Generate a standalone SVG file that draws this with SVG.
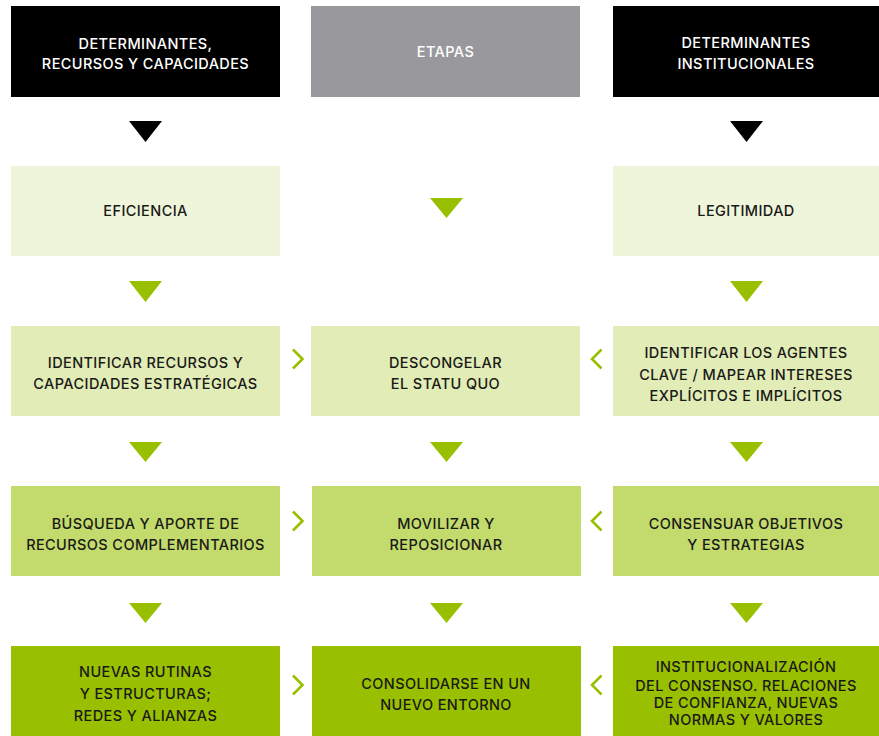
<svg xmlns="http://www.w3.org/2000/svg" width="879" height="736" viewBox="0 0 879 736">
<style>
text{font-family:Inter,"Noto Sans","Liberation Sans",sans-serif;font-size:14.5px;font-weight:500;text-anchor:middle;fill:#1a1a18;letter-spacing:0.4px}
.w{fill:#ffffff}
.hd{fill:#000000}
.et{fill:#99989d}
.r2{fill:#eef5da}
.r3{fill:#e1ecb6}
.r4{fill:#c3da6c}
.r5{fill:#99c000}
.tg{fill:#99c000}
.tb{fill:#000000}
.ch{fill:none;stroke:#99c000;stroke-width:2.6}
</style>
<g id="col-a-header"><rect class="hd" x="11" y="6" width="269" height="91"/><text class="w" x="145.5" y="48.5">DETERMINANTES,</text><text class="w" x="145.5" y="68.5">RECURSOS Y CAPACIDADES</text></g>
<g id="col-b-header"><rect class="et" x="311" y="6" width="269" height="91"/><text class="w" x="445.5" y="57">ETAPAS</text></g>
<g id="col-c-header"><rect class="hd" x="613" y="6" width="266" height="91"/><text class="w" x="746" y="48">DETERMINANTES</text><text class="w" x="746" y="68.5">INSTITUCIONALES</text></g>
<g id="eficiencia"><rect class="r2" x="11" y="166" width="269" height="90"/><text x="145.5" y="216">EFICIENCIA</text></g>
<g id="legitimidad"><rect class="r2" x="613" y="166" width="266" height="90"/><text x="746" y="216">LEGITIMIDAD</text></g>
<g id="identificar-recursos"><rect class="r3" x="11" y="326" width="269" height="90"/><text x="145.5" y="367.5">IDENTIFICAR RECURSOS Y</text><text x="145.5" y="388.5">CAPACIDADES ESTRATÉGICAS</text></g>
<g id="descongelar"><rect class="r3" x="311" y="326" width="269" height="90"/><text x="445.5" y="368">DESCONGELAR</text><text x="445.5" y="389">EL STATU QUO</text></g>
<g id="identificar-agentes"><rect class="r3" x="613" y="326" width="266" height="90"/><text x="746" y="358">IDENTIFICAR LOS AGENTES</text><text x="746" y="379.5">CLAVE / MAPEAR INTERESES</text><text x="746" y="400.5">EXPLÍCITOS E IMPLÍCITOS</text></g>
<g id="busqueda"><rect class="r4" x="11" y="486" width="269" height="90"/><text x="145.5" y="529">BÚSQUEDA Y APORTE DE</text><text x="145.5" y="550">RECURSOS COMPLEMENTARIOS</text></g>
<g id="movilizar"><rect class="r4" x="312" y="486" width="269" height="90"/><text x="446" y="528.5">MOVILIZAR Y</text><text x="446" y="549.5">REPOSICIONAR</text></g>
<g id="consensuar"><rect class="r4" x="613" y="486" width="266" height="90"/><text x="746" y="528.5">CONSENSUAR OBJETIVOS</text><text x="746" y="549.5">Y ESTRATEGIAS</text></g>
<g id="nuevas-rutinas"><rect class="r5" x="11" y="646" width="269" height="90"/><text x="145.5" y="677">NUEVAS RUTINAS</text><text x="145.5" y="699">Y ESTRUCTURAS;</text><text x="145.5" y="721">REDES Y ALIANZAS</text></g>
<g id="consolidarse"><rect class="r5" x="312" y="646" width="269" height="90"/><text x="446" y="688.5">CONSOLIDARSE EN UN</text><text x="446" y="709.5">NUEVO ENTORNO</text></g>
<g id="institucionalizacion"><rect class="r5" x="613" y="646" width="266" height="90"/><text x="746" y="672">INSTITUCIONALIZACIÓN</text><text x="746" y="690.5">DEL CONSENSO. RELACIONES</text><text x="746" y="708">DE CONFIANZA, NUEVAS</text><text x="746" y="724.5">NORMAS Y VALORES</text></g>
<g id="connectors">
<polygon class="tb" points="129,121 162,121 145.5,142"/>
<polygon class="tb" points="730,121 763,121 746.5,142"/>
<polygon class="tg" points="430,198 463,198 446.5,218"/>
<polygon class="tg" points="129,281 162,281 145.5,302"/>
<polygon class="tg" points="730,281 763,281 746.5,302"/>
<polygon class="tg" points="129,442 162,442 145.5,462"/>
<polygon class="tg" points="430,442 463,442 446.5,462"/>
<polygon class="tg" points="730,442 763,442 746.5,462"/>
<polygon class="tg" points="129,603 162,603 145.5,623"/>
<polygon class="tg" points="430,603 463,603 446.5,623"/>
<polygon class="tg" points="730,603 763,603 746.5,623"/>
<polyline class="ch" points="293,349.5 302.5,359 293,368.5"/>
<polyline class="ch" points="601.5,349.5 592,359 601.5,368.5"/>
<polyline class="ch" points="293,511.5 302.5,521 293,530.5"/>
<polyline class="ch" points="601.5,511.5 592,521 601.5,530.5"/>
<polyline class="ch" points="293,675.5 302.5,685 293,694.5"/>
<polyline class="ch" points="601.5,675.5 592,685 601.5,694.5"/>
</g>
</svg>
